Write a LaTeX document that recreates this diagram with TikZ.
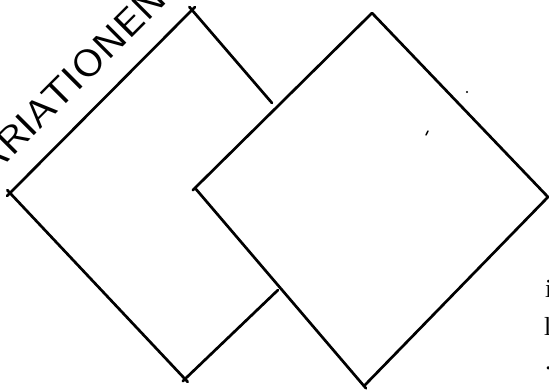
\documentclass[tikz,border=0pt]{standalone}
\usepackage{fontspec}
\newfontfamily\edgefont{Liberation Serif}
\tikzset{
  stroke/.style={line width=2.7pt, line cap=round, line join=round, black},
  over/.style={shorten <=-4pt, shorten >=-4pt},
  handtext/.style={inner sep=0pt, outer sep=0pt},
  edgetext/.style={inner sep=0pt, anchor=base west, font=\edgefont\fontsize{26}{26}\selectfont},
}
\begin{document}
\begin{tikzpicture}[x=1pt,y=-1pt]
\useasboundingbox (0,0) rectangle (549,389);
\clip (0,0) rectangle (549,389);
% left diamond
\coordinate (T1) at (192,10);
\coordinate (L1) at (10,193);
\coordinate (B1) at (185,379);
\coordinate (E1) at (272,103);
\coordinate (E2) at (278,290);
% right diamond
\coordinate (T2) at (372,13);
\coordinate (L2) at (195,188);
\coordinate (B2) at (364,386);
\coordinate (R2) at (548,197);

\draw[stroke,over] (L1) -- (T1);
\draw[stroke,shorten <=-4pt] (T1) -- (E1);
\draw[stroke,over] (L1) -- (B1);
\draw[stroke,shorten <=-3pt] (B1) -- (E2);

\draw[stroke,shorten <=-3pt] (L2) -- (T2);
\draw[stroke] (T2) -- (R2);
\draw[stroke] (R2) -- (B2);
\draw[stroke,shorten >=-3pt] (L2) -- (B2);

% small specks
\fill (467,92) circle (1.1pt);
\draw[line width=1.4pt, line cap=round] (426,135) -- (428,131);

% handwritten label
\node[handtext, anchor=base west, rotate=45] (lab) at (-8,178)
  {\resizebox{250pt}{27pt}{\sffamily ARIATIONEN}};

% text fragments at right edge
\node[edgetext] (f1) at (545,297) {i};
\node[edgetext] (f2) at (544,335) {l};
\node[edgetext] (f3) at (545,369) {.};
\end{tikzpicture}
\end{document}
